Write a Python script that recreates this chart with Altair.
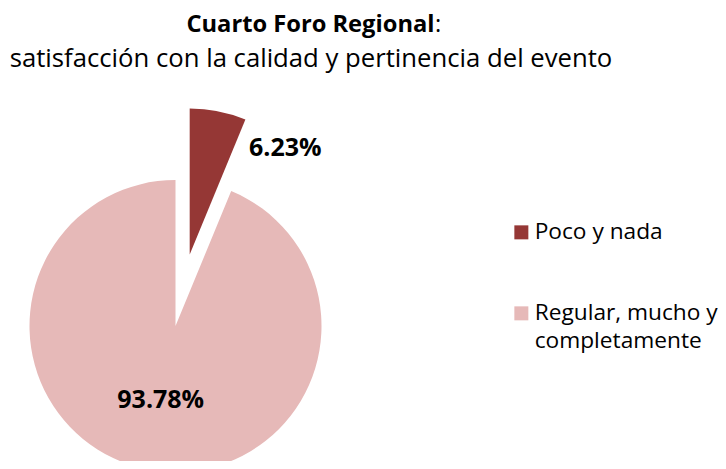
import altair as alt
import pandas as pd

# ---- data ----
categories = ["Poco y nada", "Regular, mucho y completamente"]
values = [6.23, 93.78]
value_labels = ["6.23%", "93.78%"]
colors = ["#953735", "#E6B9B8"]

title_main = "Cuarto Foro Regional"
title_colon = ":"
title_sub = "satisfacción con la calidad y pertinencia del evento"

# ---- layout ----
W, H = 710, 453
CX, CY, R = 167.5, 318, 146
EXPLODE = 73
FONT = "Open Sans"

df = pd.DataFrame({"cat": categories, "val": values, "label": value_labels, "idx": list(range(len(values)))})

base = (
    alt.Chart(df)
    .transform_window(cum="sum(val)", sort=[alt.SortField("idx")], frame=[None, 0])
    .transform_joinaggregate(total="sum(val)")
    .transform_calculate(t0="2*PI*(datum.cum - datum.val)/datum.total")
    .transform_calculate(t1="2*PI*datum.cum/datum.total")
    .transform_calculate(mid="(datum.t0 + datum.t1)/2")
    .transform_calculate(share="datum.val/datum.total")
    .transform_calculate(off=f"datum.share < 0.1 ? {EXPLODE} : 0")
    .transform_calculate(px=f"{CX} + datum.off*sin(datum.mid)")
    .transform_calculate(py=f"{CY} - datum.off*cos(datum.mid)")
    .transform_calculate(la="datum.share < 0.1 ? datum.t1 + 0.34 : datum.mid")
    .transform_calculate(lr=f"datum.share < 0.1 ? {0.98 * R} : {0.52 * R}")
    .transform_calculate(lx="datum.px + datum.lr*sin(datum.la)")
    .transform_calculate(ly="datum.py - datum.lr*cos(datum.la)")
)

legend = alt.Legend(
    title=None,
    orient="none",
    legendX=502,
    legendY=213,
    symbolType="square",
    symbolSize=196,
    symbolStrokeWidth=0,
    labelFont=FONT,
    labelFontSize=22.7,
    labelColor="black",
    labelOffset=2,
    labelLimit=0,
    labelBaseline="middle",
    rowPadding=57,
    padding=0,
    labelExpr="datum.label == 'Regular, mucho y completamente' ? ['Regular, mucho y', 'completamente'] : datum.label",
)

arcs = base.mark_arc(radius=R).encode(
    x=alt.X("px:Q", scale=None, axis=None),
    y=alt.Y("py:Q", scale=None, axis=None),
    theta=alt.Theta("t0:Q", scale=None, stack=None),
    theta2="t1:Q",
    color=alt.Color("cat:N", scale=alt.Scale(domain=categories, range=colors), legend=legend),
)

pct = base.mark_text(
    font=FONT, fontWeight="bold", fontSize=25, baseline="middle", align="center", color="black"
).encode(
    x=alt.X("lx:Q", scale=None, axis=None),
    y=alt.Y("ly:Q", scale=None, axis=None),
    text="label:N",
)

tdf = pd.DataFrame({"main": [title_main], "colon": [title_colon], "sub": [title_sub]})
t_main = alt.Chart(tdf).mark_text(
    font=FONT, fontWeight="bold", fontSize=23.7, align="right", baseline="alphabetic", color="black"
).encode(x=alt.value(426.5), y=alt.value(23.7), text="main:N")
t_colon = alt.Chart(tdf).mark_text(
    font=FONT, fontSize=23.7, align="left", baseline="alphabetic", color="black"
).encode(x=alt.value(427), y=alt.value(23.7), text="colon:N")
t_sub = alt.Chart(tdf).mark_text(
    font=FONT, fontSize=25.7, align="center", baseline="alphabetic", color="black"
).encode(x=alt.value(303), y=alt.value(58.7), text="sub:N")

chart = (
    alt.layer(arcs, pct, t_main, t_colon, t_sub)
    .properties(width=W, height=H, autosize=alt.AutoSizeParams(type="none"), padding=0)
    .configure(
        view=alt.ViewConfig(stroke="transparent"),
        style={"guide-label": {"lineHeight": 28}},
    )
)

chart.save("out.html", embed_options={"renderer": "svg", "actions": False})
